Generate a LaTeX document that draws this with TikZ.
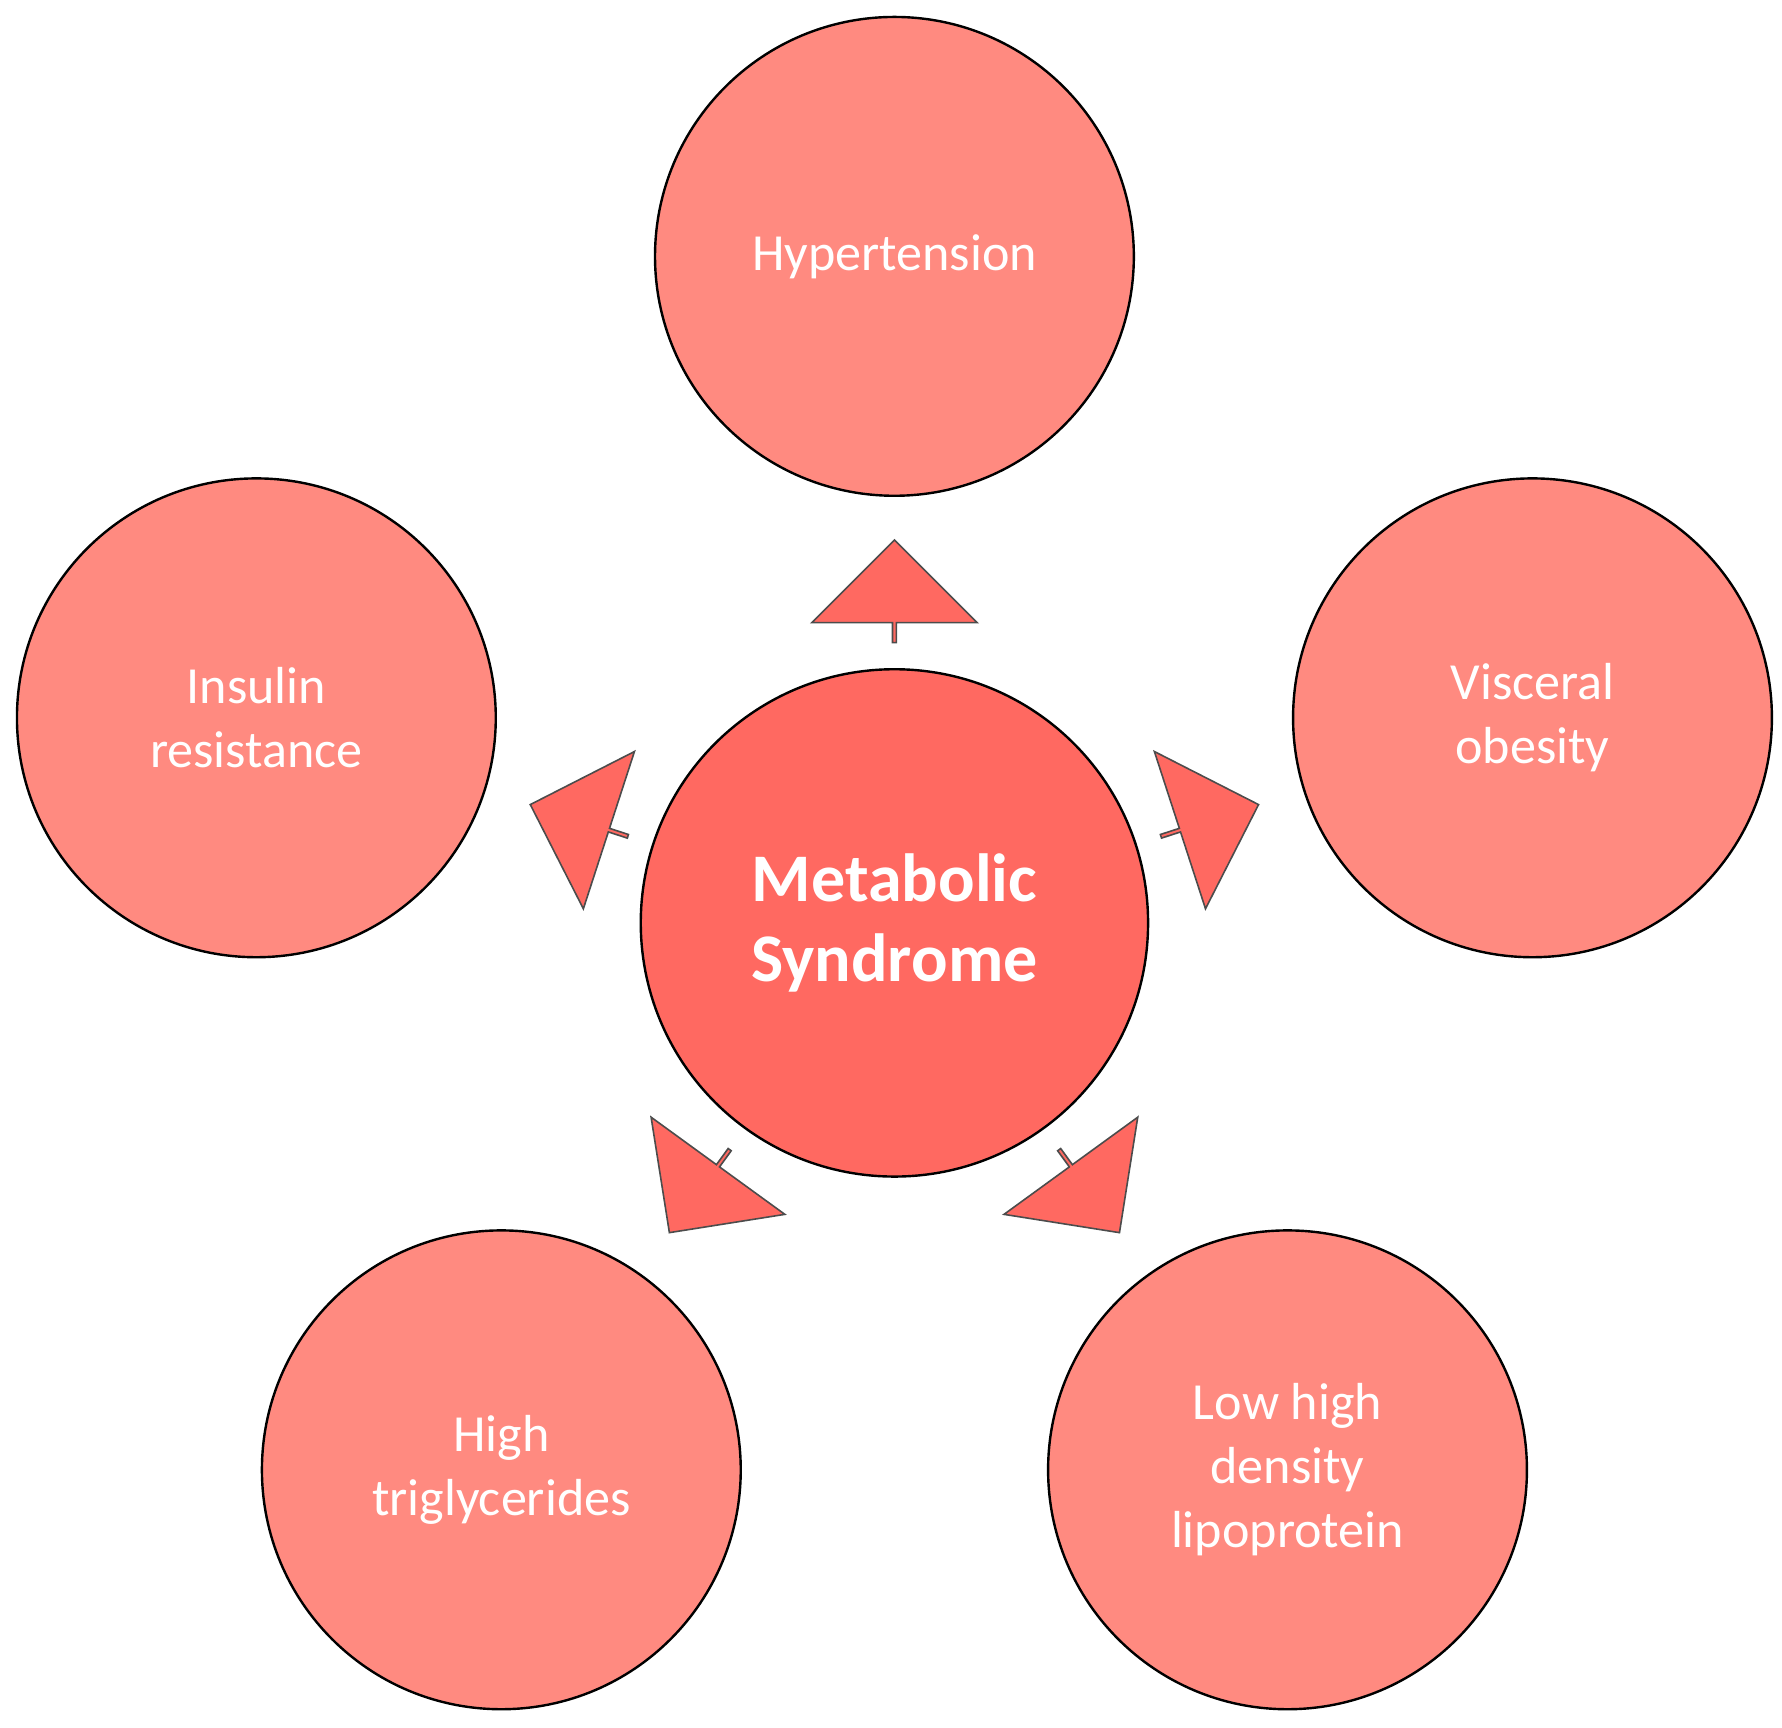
\documentclass[tikz,border=0pt]{standalone}
\usepackage{fontspec}
\setmainfont{Carlito}
\usetikzlibrary{shapes.arrows,calc}
\definecolor{outerfill}{HTML}{FF8A80}
\definecolor{innerfill}{HTML}{FF6961}
\tikzset{
  factor/.style={circle,draw=black,line width=0.6pt,fill=outerfill,minimum size=4.2cm,
    text=white,align=center,font=\fontsize{13}{16}\selectfont},
  core/.style={circle,draw=black,line width=0.6pt,fill=innerfill,minimum size=4.45cm,
    text=white,align=center,font=\fontsize{17}{20}\selectfont\bfseries},
  blockarrow/.style={single arrow,draw=black!70,line width=0.4pt,fill=innerfill,
    minimum height=0.9cm,minimum width=1.45cm,single arrow head extend=0.3cm,inner sep=0pt}
}
\begin{document}
\begin{tikzpicture}[x=0.01cm,y=-0.01cm]
\useasboundingbox (0,0) rectangle (1564,1516);
\node[core] (MS) at (785,810) {Metabolic\\Syndrome};
\node[factor] (HT) at (785,225) {Hypertension};
\node[factor] (IR) at (225,630) {Insulin\\resistance};
\node[factor] (VO) at (1345,630) {Visceral\\obesity};
\node[factor] (TG) at (440,1290) {High\\triglycerides};
\node[factor] (HDL) at (1130,1290) {Low high\\density\\lipoprotein};
\foreach \ang/\nm in {90/up,162/left,18/right,234/downleft,306/downright}
  \node[blockarrow,rotate=\ang] (arr-\nm) at ($(MS)+(\ang:2.9cm)$) {};
\end{tikzpicture}
\end{document}
